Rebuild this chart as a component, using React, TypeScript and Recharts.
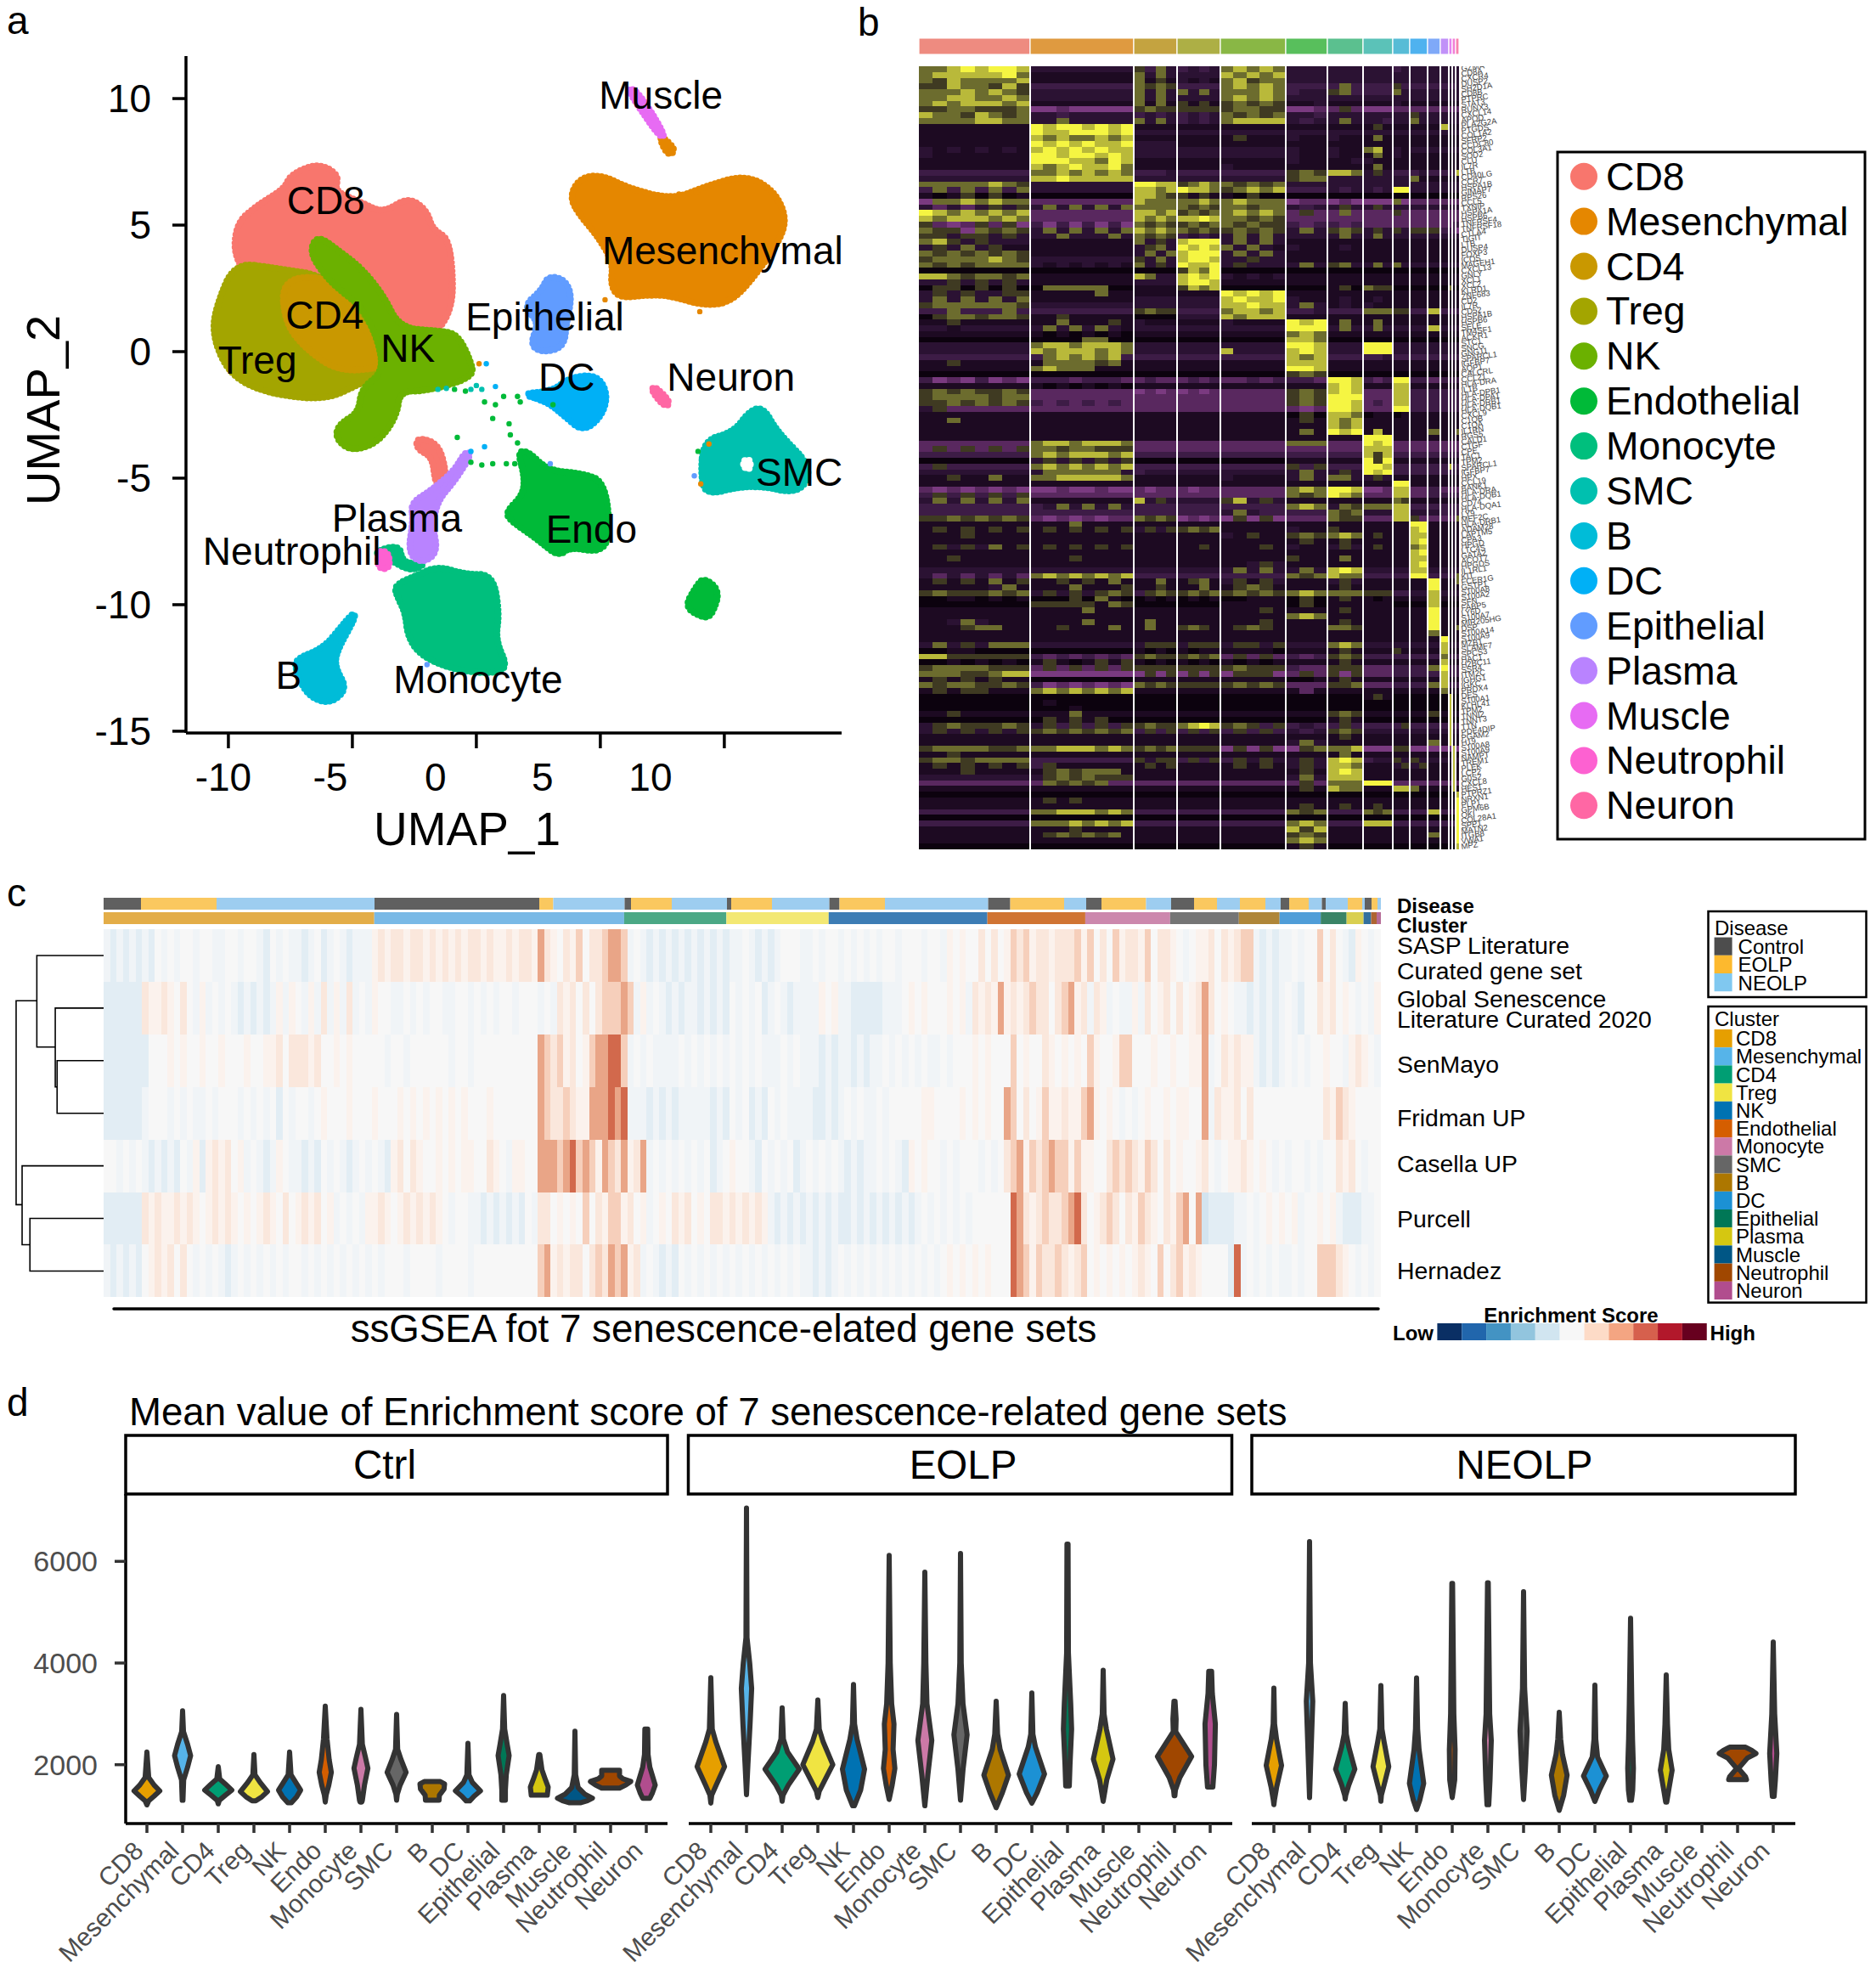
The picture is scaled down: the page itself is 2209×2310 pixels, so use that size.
import React from 'react';
import { BarChart, Bar, Cell, ReferenceLine, Scatter, ScatterChart, XAxis, YAxis } from 'recharts';

const FONT = '"Liberation Sans", Arial, sans-serif';

// ---- panel a: UMAP outlines in UMAP units
const umapCD8 = [[-9.76,3.52],[-9.71,5.04],[-8.83,5.79],[-7.73,6.44],[-7.51,6.98],[-6.4,7.46],[-5.52,6.98],[-5.74,6.34],[-4.64,5.9],[-3.75,5.47],[-2.76,6.12],[-1.99,5.58],[-1.77,4.82],[-0.99,4.39],[-0.93,0.93],[-3.75,-0.15],[-8.17,1.79]];
const umapCD8Small = [[-2.43,-3.39],[-1.55,-3.61],[-1.22,-4.69],[-1.32,-5.34],[-1.66,-5.23],[-1.77,-4.15],[-2.38,-3.87]];
const umapMes = [[3.75,6.12],[4.19,6.88],[5.08,6.98],[6.18,6.44],[7.95,6.01],[9.27,6.55],[10.82,6.98],[11.92,6.44],[12.47,5.47],[12.36,4.61],[11.48,3.31],[10.38,2.01],[9.27,1.79],[7.73,2.23],[6.84,2.23],[5.74,2.12],[5.41,2.66],[5.52,3.52],[4.86,4.61],[4.19,5.36]];
const umapMesTail = [[7.51,8.5],[8.06,7.96],[7.73,7.74],[7.4,8.39]];
const umapTreg = [[-9.76,3.52],[-10.49,1.79],[-10.64,0.71],[-10.15,-0.58],[-9.27,-1.34],[-7.73,-1.77],[-5.96,-1.88],[-4.64,-1.23],[-3.31,-0.8],[-3.75,0.93],[-5.96,2.98],[-8.17,3.31]];
const umapCD4 = [[-7.84,2.88],[-5.96,2.98],[-5.08,1.79],[-4.2,0.5],[-3.31,-0.15],[-3.75,-0.63],[-5.52,-0.8],[-6.84,0.06],[-7.73,1.15]];
const umapNK = [[-6.73,3.96],[-6.4,4.61],[-5.52,3.96],[-4.64,3.31],[-3.75,2.23],[-3.09,0.93],[-1.55,0.82],[-0.77,0.71],[-0.22,-0.37],[-0.11,-1.02],[-1.99,-1.56],[-3.09,-1.56],[-3.2,-2.53],[-3.97,-3.61],[-5.08,-3.94],[-5.7,-3.39],[-5.52,-2.85],[-4.75,-2.42],[-4.64,-1.45],[-3.75,-0.8],[-3.97,0.5],[-4.64,1.79],[-5.52,2.44],[-6.18,3.09]];
const umapEpi = [[1.88,1.79],[2.65,2.44],[2.87,2.98],[3.53,2.88],[3.86,2.23],[3.64,1.15],[3.53,0.17],[2.65,-0.04],[2.16,0.28],[2.54,1.15]];
const umapDC = [[1.77,-1.66],[3.09,-1.56],[3.75,-1.02],[4.86,-0.91],[5.3,-1.66],[5.08,-2.53],[4.31,-3.18],[3.53,-2.53],[2.87,-1.99]];
const umapSMC = [[9.16,-3.5],[10.38,-3.18],[11.04,-2.31],[11.59,-2.21],[12.14,-3.18],[13.47,-4.48],[13.25,-5.34],[12.58,-5.56],[11.7,-5.34],[10.6,-5.34],[9.27,-5.67],[9.05,-4.91]];
const umapSMCHole = [[10.75,-4.3],[11.05,-4.25],[11.05,-4.65],[10.8,-4.6]];
const umapEndo = [[1.66,-3.94],[2.1,-3.94],[2.87,-4.69],[4.19,-4.8],[5.19,-5.12],[5.41,-7.29],[4.97,-7.94],[3.75,-7.72],[3.31,-8.11],[2.43,-7.39],[1.32,-6.64],[1.21,-6.31],[1.88,-5.67],[1.94,-4.91]];
const umapEndoSmall = [[8.39,-10.1],[8.83,-9.34],[9.16,-8.91],[9.83,-9.45],[9.5,-10.42],[9.16,-10.53]];
const umapMono = [[-3.31,-9.23],[-2.32,-8.8],[-1.55,-8.48],[-0.44,-8.8],[0.66,-8.8],[0.93,-10.31],[0.77,-11.39],[1.28,-12.48],[0.66,-12.73],[-0.88,-12.58],[-2.21,-12.04],[-2.76,-11.29],[-2.87,-10.31],[-3.2,-9.66]];
const umapMonoBit = [[-4.2,-7.94],[-3.09,-7.61],[-2.98,-8.37],[-1.99,-8.37],[-2.65,-8.69],[-3.53,-8.19]];
const umapPlasma = [[-2.65,-5.99],[-1.77,-5.45],[-0.88,-4.69],[-0.44,-3.94],[-0.18,-4.04],[-0.88,-5.12],[-1.55,-5.88],[-1.77,-6.85],[-1.55,-7.94],[-2.21,-8.37],[-2.76,-7.94],[-2.54,-6.64]];
const umapB = [[-7.29,-12.15],[-6.18,-11.72],[-5.52,-10.96],[-4.97,-10.31],[-4.86,-10.49],[-5.63,-11.83],[-5.7,-12.48],[-5.19,-13.34],[-5.96,-13.95],[-6.84,-13.56],[-7.29,-12.58]];
const umapMuscle = [[6.18,10.44],[6.51,10.23],[7.06,9.47],[7.62,8.5],[7.4,8.5],[6.84,9.25],[6.18,10.23]];
const umapNeuron = [[7.17,-1.34],[7.84,-1.99],[7.62,-2.21],[7.06,-1.56]];
const umapNeutrophil = [[-3.97,-7.83],[-3.53,-7.94],[-3.49,-8.58],[-3.97,-8.58]];

const strayEndo = [[-0.22,-4.37],[0.22,-4.48],[0.66,-4.43],[1.21,-4.43],[1.55,-4.43],[1.32,-2.85],[1.37,-3.29],[1.66,-3.61],[-0.77,-3.39],[0.33,-1.99],[0.77,-2.1],[0.66,-2.64],[1.1,-1.77],[1.66,-1.77],[1.77,-1.99],[-0.44,-1.56],[-0.88,-1.49],[8.94,-3.94],[3.09,-2.1]];
const straySMC = [[0,-1.34],[0.22,-1.49],[-0.22,-1.49],[-1.55,-1.49],[-1.21,-1.45]];
const strayDC = [[0.77,-1.38],[0.33,-3.76],[-0.22,-3.94],[0.4,-0.48]];
const strayMes = [[0.11,-0.48],[5.19,2.05],[8.17,6.23],[8.87,6.29],[9.01,1.58],[9.38,-3.65],[9.05,-5.23]];
const strayEpi = [[2.98,-4.43],[-1.99,-12.37],[8.79,-4.91]];

const umapLabels = [
  { x: 7.44, y: 10.12, name: 'Muscle' }, { x: -6.07, y: 5.97, name: 'CD8' }, { x: 9.93, y: 4.0, name: 'Mesenchymal' },
  { x: 2.76, y: 1.36, name: 'Epithelial' }, { x: -6.12, y: 1.43, name: 'CD4' }, { x: -8.83, y: -0.32, name: 'Treg' },
  { x: -2.76, y: 0.13, name: 'NK' }, { x: 3.64, y: -1.02, name: 'DC' }, { x: 10.27, y: -1.02, name: 'Neuron' },
  { x: 13.02, y: -4.76, name: 'SMC' }, { x: -3.2, y: -6.59, name: 'Plasma' }, { x: 4.64, y: -7.03, name: 'Endo' },
  { x: -7.44, y: -7.89, name: 'Neutrophil' }, { x: -7.57, y: -12.8, name: 'B' }, { x: 0.07, y: -12.97, name: 'Monocyte' },
];

const umapLegendNames = ['CD8', 'Mesenchymal', 'CD4', 'Treg', 'NK', 'Endothelial', 'Monocyte', 'SMC', 'B', 'DC', 'Epithelial', 'Plasma', 'Muscle', 'Neutrophil', 'Neuron'];
const umapColors = ['#F8766D', '#E58700', '#C99800', '#A3A500', '#6BB100', '#00BA38', '#00BF7D', '#00C0AF', '#00BCD8', '#00B0F6', '#619CFF', '#B983FF', '#E76BF3', '#FD61D1', '#FF67A4'];
const umapXTicks = [-10, -5, 0, 5, 10];
const umapYTicks = [-15, -10, -5, 0, 5, 10];
const umapXLabelShift = [-6, -26, -48, -68, -87];

// ---- panel b: marker heatmap, one string per row, one digit per sub column of each cluster
const markerBarColors = ['#EE8B80', '#DF9A40', '#C4A340', '#ADAF45', '#89B745', '#58BF5C', '#5BC08F', '#5BC2B8', '#57BCD6', '#4FB2EF', '#7FA9F8', '#C191F8', '#E584F0', '#F27FD6', '#F783AE'];
const markerClusterWidths = [131, 122, 51, 51, 77, 49, 42, 35, 20, 21, 15, 10, 4, 4, 4];
const markerClusterCols = [8, 8, 4, 4, 5, 3, 3, 3, 2, 2, 1, 1, 1, 1, 1];
const markerPalette = ['#0c020e', '#1d0a22', '#2b1233', '#3d1c46', '#59285f', '#7a3a80', '#3f3a22', '#6c6c2e', '#b9b93a', '#f5f542'];
const markerRows = [
  '77898998 22222222 6372 3232 78787 222 222 222 32 22 2 2 2 2 2','78888897 11111111 7272 2222 87878 222 222 222 22 22 2 2 2 2 2','76877778 11111111 7161 2121 78677 222 222 222 22 22 2 2 2 2 2','66877686 33333333 7676 3333 78787 333 373 333 63 33 3 3 3 3 2','77787876 22222222 7272 7272 77787 322 673 333 72 22 2 2 2 2 2',
  '77887787 22222222 7272 2222 78787 222 222 222 22 22 2 2 2 2 2','78788878 11111111 7171 6161 67676 112 111 111 21 11 1 1 1 1 1','66776667 55455555 6766 6666 67766 554 464 555 44 44 4 4 4 4 4','87768767 22322222 3232 3232 76767 223 222 222 22 62 2 2 2 2 2','77778877 22722222 7272 3232 78888 232 272 223 22 72 2 2 2 2 2',
  '11111111 98998989 1111 1111 11111 111 111 161 11 11 1 8 1 1 1','11111111 98899989 2222 2222 22222 222 222 222 22 22 2 2 2 2 2','11111111 87877878 1111 1111 16111 211 211 171 11 11 1 1 1 1 1','11111111 98989889 2222 1111 11111 111 111 111 11 11 1 1 1 1 1','21212121 89898988 2222 2222 22222 211 211 781 21 22 2 2 2 2 2',
  '21111111 99899898 2222 2222 22222 211 211 171 21 11 1 1 1 1 1','11111111 99988798 1111 1111 11111 211 112 211 11 11 1 1 1 1 1','11111111 87898897 1111 1111 21111 111 111 171 11 11 1 1 1 1 1','33333333 77878787 3332 3333 33333 676 887 262 33 32 3 3 3 2 8','22222222 88988888 2222 2222 22222 677 222 222 22 71 1 1 1 1 1',
  '77777876 22222222 9988 6787 76767 222 222 222 22 22 2 2 2 2 2','37373737 22222222 8878 9887 67878 333 232 232 99 22 2 2 2 2 2','10160601 00000000 8876 6161 10600 000 000 000 00 00 0 0 0 0 0','57787877 44444444 8777 7787 78777 544 545 555 75 44 4 4 4 4 4','24242626 27272727 7777 7676 77677 232 262 262 22 22 2 2 2 2 2',
  '98787878 44444444 8878 6767 78787 464 474 444 64 44 4 4 4 4 4','87888787 44444444 8787 8898 77676 444 444 444 44 44 4 4 4 4 4','64546465 35353535 7676 6767 76766 343 343 444 44 44 4 4 4 3 3','76657676 27272727 8787 7676 67676 272 676 262 62 66 6 3 3 3 5','66266262 22722272 7676 3232 27272 222 272 272 22 22 2 2 2 2 2',
  '78626222 11111111 7262 8999 27272 111 111 111 11 11 1 1 1 1 1','26272611 11111111 2672 9898 72721 211 121 111 11 11 1 1 1 1 1','76767676 11111111 2727 8999 27272 111 111 111 11 11 1 1 1 1 1','67777876 22222222 6272 8998 22622 111 111 111 11 11 1 1 1 1 1','76767777 21212121 7262 9889 26222 272 672 272 72 22 2 2 2 2 2',
  '00000000 00000000 0000 6879 00000 000 000 000 00 00 0 0 0 0 0','88767767 11111111 8722 8989 21212 111 111 111 11 11 1 1 1 1 1','22626262 11111111 2222 8998 11111 111 111 111 11 11 1 1 1 1 1','06606060 07777700 1111 6878 00000 000 160 766 00 00 0 0 7 0 0',
  '26262266 11111711 1111 1111 98989 111 111 111 11 11 1 1 1 1 1','27272727 11111111 2222 2222 89889 211 121 121 11 11 1 1 1 1 1','67777776 22222222 2222 2222 88988 272 121 211 11 11 1 1 1 1 1','33733373 33333333 6766 3333 78878 332 333 777 66 33 8 3 3 3 3','06776776 11611111 0000 2222 87888 111 111 111 11 11 1 1 1 1 1',
  '11611111 11711161 2111 1111 21111 989 171 171 11 11 1 1 1 1 1','22122222 27272721 2222 2222 22222 999 272 272 22 22 8 2 2 2 2','11111111 10101010 1111 1111 11111 787 111 111 11 11 1 1 1 1 1','00000000 00007700 0000 0000 00000 887 000 000 00 00 0 0 0 0 0','22222222 78878887 2222 2222 22222 998 222 999 22 22 2 2 2 2 2',
  '22222222 87888787 2222 2222 82222 898 222 999 22 22 2 2 2 2 2','33333333 37878783 3333 3333 33333 878 333 332 33 33 3 3 3 3 3','11611111 17777671 1111 1111 11111 888 111 111 11 11 1 1 1 1 1','11111111 78777111 1111 1111 11111 998 111 111 11 11 1 1 1 1 1','00000000 00000000 0000 0000 00000 676 000 000 00 00 0 0 0 0 0',
  '35453545 33343334 4344 4343 44343 334 998 343 99 33 4 3 3 3 3','11111111 10101010 1111 1111 11111 111 898 111 88 11 1 1 1 1 1','67676676 44444444 5454 5454 44444 676 898 444 88 33 3 3 3 3 3','67777677 44444444 4444 4444 44444 676 999 444 88 33 3 3 3 3 3','66767676 34343434 4444 4444 44444 676 998 434 88 33 3 3 3 3 3',
  '26444444 44444444 4444 4444 44444 454 998 444 99 33 3 3 3 3 3','11111111 11111111 1111 1111 11111 060 887 011 01 11 1 1 1 1 1','11711111 11111111 1111 1111 11111 161 878 111 11 11 1 1 1 1 1','11111111 11111111 1111 1111 11111 111 878 111 11 11 1 1 1 1 1','11111111 11111111 1111 1111 11111 171 989 181 11 11 7 1 1 1 7',
  '11111111 11111111 1111 1111 11111 111 111 999 11 11 1 1 1 1 1','44444444 78878887 4444 4444 44444 777 444 989 44 44 4 4 4 4 4','46464646 77677666 4444 4444 44444 444 444 888 44 44 4 4 4 4 4','33333333 78788878 3333 3333 33333 333 333 868 33 33 3 3 3 3 3','00000000 26262626 0000 0000 00000 111 111 969 11 11 1 1 1 1 1',
  '36333333 78787878 3333 3333 33333 636 333 998 33 33 3 3 8 3 3','22222222 27777772 3222 2222 22222 272 262 989 33 33 3 3 3 2 2','11611711 77888887 1111 1111 21111 272 772 262 11 11 1 1 1 1 1',
  '11111111 11111111 1111 1111 11111 111 111 111 99 11 1 1 1 1 1','45454545 55455455 4544 4544 44444 787 998 554 88 44 3 4 4 4 4','36363636 44444444 4444 4444 44444 767 987 444 88 44 3 3 3 3 3','27272727 11111111 8262 2222 68262 111 111 111 76 11 1 1 1 1 1','33333333 32727272 3333 3333 33333 787 276 777 88 33 3 3 3 3 3','33333333 33333333 3333 3333 27233 333 767 222 88 22 2 3 3 3 3','66767676 45454544 7676 5454 56565 444 766 444 88 64 4 4 4 4 7',
  '11111111 11171111 1111 1111 11111 111 111 111 11 99 1 1 1 1 1','16161616 16161616 2626 6767 11111 211 611 111 11 89 1 1 1 1 1','11161111 11111111 1111 1111 21611 676 787 161 11 88 1 1 1 1 1','11111111 11111111 1111 1111 11111 161 161 111 11 89 1 1 1 1 1','16262716 16161616 1111 1161 11161 211 262 161 11 78 1 1 1 1 1',
  '11111111 11111111 1111 1111 11111 111 111 111 11 89 1 1 1 1 1','11611111 11161111 1111 1111 11111 611 171 111 11 88 1 1 1 1 1','11111111 11111111 1111 1111 11262 111 111 111 11 89 1 1 1 1 1','22222222 22222222 2222 2222 27272 272 898 222 22 88 2 2 2 2 2','24242424 78787878 3333 3333 33333 767 877 333 33 99 3 3 3 3 7',
  '16161716 11616171 1171 1671 26162 111 262 111 11 11 9 1 1 1 7','11111271 11171116 1161 1171 16761 111 161 111 11 11 9 1 1 1 1','67666767 26262676 3676 6767 67676 787 777 666 33 22 8 2 2 2 2','00110101 00060710 0101 0101 00111 060 161 101 11 11 8 1 1 1 1','00000000 66666176 0000 0000 11111 060 111 111 00 00 8 0 0 0 0',
  '11111111 11117111 1111 1111 11161 111 161 111 11 11 9 1 1 1 1','11111111 11111111 1111 1111 11111 787 111 111 11 11 9 1 1 1 1','11272111 11117111 1711 1111 11161 111 161 111 11 11 9 1 1 1 1','11167711 11611171 1711 6761 16761 111 776 111 11 11 9 1 1 1 7','11111111 11111111 1111 1111 11111 111 111 111 11 11 7 1 1 1 1',
  '11111111 11111111 1111 1111 11111 111 111 111 11 11 1 9 1 1 1','27262777 22222222 2666 2666 26626 222 787 222 22 22 2 8 2 2 2','00110000 00000000 1010 1011 11110 111 161 111 61 11 1 8 1 1 1','88666666 34343434 6766 6767 46464 343 676 333 33 33 3 7 3 3 3','00101010 16101616 1010 1010 10101 111 161 111 11 11 1 8 1 1 1',
  '67777666 46464646 6666 6666 67666 344 666 444 33 33 7 9 3 3 3','77766788 55555555 5656 5656 56665 464 656 444 33 33 3 8 3 3 3','16161611 00000000 1111 1111 11111 001 161 111 11 11 1 8 1 1 1','76776676 35454545 7676 6666 67676 444 667 444 33 33 7 8 3 3 3','16166111 78787878 1111 1111 11111 141 111 111 11 11 1 7 1 1 1',
  '00000000 00000000 0000 0000 00000 000 000 161 00 00 0 0 8 0 0','00000000 01000000 0000 0000 00000 000 000 000 00 00 0 0 8 0 0','00000000 00010000 0000 0000 00000 000 000 000 00 00 0 0 8 0 0','11611111 11171111 1111 1111 11111 111 676 111 11 11 6 1 8 1 1','00000000 06161600 0000 0000 00000 000 161 000 00 00 0 0 8 0 0',
  '26766676 26363636 6766 7898 67636 323 363 333 36 33 3 3 8 3 3','26262626 67676767 3636 3636 36363 232 676 222 22 22 2 2 8 2 2','11111111 11111111 1111 1111 11111 111 161 111 11 11 1 1 8 1 1','11111111 11111111 1111 1111 11111 272 111 111 11 11 7 1 8 1 1','67777667 77888787 6767 6666 56565 567 778 555 66 55 5 5 5 8 5',
  '11611111 11111111 1111 1111 11111 111 171 111 11 11 1 1 1 8 1','67767777 33333333 6266 3636 36262 262 898 322 62 62 2 2 2 8 2','16161616 36111111 1616 1111 16161 262 887 111 26 26 1 1 1 8 1','11161111 16767771 1111 1111 11111 161 898 111 11 11 1 1 1 8 1','22222222 26767666 1111 1111 11111 272 888 111 11 11 1 1 1 8 1','44444444 47676744 4444 4444 44444 464 777 999 44 44 4 4 4 8 4','11111111 11111111 1111 1111 11111 161 877 111 88 71 1 1 1 8 1',
  '00000000 00000000 0000 0000 00000 000 000 000 00 00 0 0 0 0 8','11111111 16161111 1111 1111 11111 111 111 111 11 11 1 1 1 1 9','11111111 11111111 1111 1111 11111 161 161 161 11 11 1 1 1 1 9','33333333 77888787 3333 3333 33333 767 333 767 33 33 8 3 3 3 9','00000000 00000000 0000 0000 00000 000 000 000 00 00 0 0 0 0 9',
  '33333333 77787878 3333 3333 33333 787 333 888 33 33 3 3 3 3 9','11111111 11161111 1111 1111 11111 868 111 111 11 11 1 1 1 1 9','11111111 16767671 1111 1111 11111 676 111 111 11 11 7 1 1 1 9','11111111 11111111 1111 1111 11111 787 111 111 11 11 1 1 1 1 9','00000000 00000000 0000 0000 00000 161 000 000 00 00 0 0 0 0 8',
];
const markerGenes = ['GZMA','CD8A','CXCR4','DUSP2','SH2D1A','CD8B','PTPRC','STAT3','RUNX3','CXCL14','APOD','PLA2G2A','PTGDS','COL1A2','SFRP2','CCDC80','COL3A1','SOD2','CLU','IL7R','LTB','CD40LG','CCR7','HSPA1B','GIMAP7','RPS26','CCL5','TXNIP','HSPA1A','HSPB6','TNFRSF4','TNFRSF18','CTLA4','TIGIT','LTB','DUSP4','FOXP3','ICOS','MAGEH1','CXCL13','GNLY','XCL1','XCL2','KLRD1','ZNF683','CD2','IL7R','CD52','HSPA1B','HSPB6','SELE','TM4SF1','ACKR1','STC1','SNCG','GNG11','SPARCL1','IGFBP7','AQP1','CALCRL','CCL21','HLA-DRA','IL1B','HLA-DPB1','HLA-DPA1','HLA-DRB1','HLA-DQB1','CXCL9','C1QB','C1QA','IL1RN','RGS5','CALD1','CTGF','CPE','TAC1','TPM2','SPARCL1','IGFBP7','HPX','CCL19','BANK1','HLA-DRA','HLA-DQB1','CD74','HLA-DQA1','LY9','MEF2C','HLA-DRB1','ADAM28','LAPTM5','CPA3','HPGD','LTC4S','GATA2','ACOT7','HPGDS','IL1RL1','KIT','FCER1G','GSTP1','S100A8','S100A2','SFN','FABP5','LY6D','S100A7','MIR205HG','DSP','S100A14','S100A9','MZB1','SLAMF7','SPCS3','HAC1','H2BC11','SSR4','ITM2C','IGHG1','IGKC','PRDX4','DES','S100A1','KLHL41','TPM2','TNNI2','TNNT3','TTN','PDE4DIP','PGAM2','H19','S100A8','S100A9','NAMPT','TREM1','PLEK','LCP2','G0S2','CXCL8','HES1','PTPRZ1','NRXN1','PLP1','GPM6B','QKI','COL28A1','SPP1','MATN2','ITGB8','VWA1','MPZ'];

// ---- panel c: ssGSEA heatmap, 7 gene sets, 200 columns across the cells
const ssgseaPalette = ['#D3E4EF', '#E2EDF4', '#F0F4F7', '#F7F7F7', '#FBF2ED', '#FAE7DC', '#F6CFBB', '#E9A587', '#D2694C'];
const ssgseaRows = [
  '2121212132 3233233223 3233213232 2123123212 2245455455 4545454554 5445455475 4354635567 7623212121 2121212122 3212123332 2323323232 3233233323 3243433535 3465645545 5564635364 5546355432 3445354566 2121223233 6353214323',
  '1111115445 4353242323 2121212424 3242524252 3243322323 2332233232 3233233323 2545353566 6762423212 1221212132 3231232122 2243422111 1122234343 3343425454 7454565535 6745254232 2425345353 4575343221 2121232133 5453432324',
  '1111111333 4343343343 3343344535 5545334343 3333233233 3333233233 3333333376 5645346778 8623232222 3232323232 3232223232 2212122121 2232323232 2323334343 3363433543 4343643346 6333433433 4472354544 2121232323 3433245432',
  '1111112333 2323223233 3232323132 3323433343 3343334343 4343434333 4333333376 5565447778 7822212121 2222212132 3121323222 2112123232 2323333344 3333434343 3763534644 5446743432 3234334344 3372544535 3333333333 3546543333',
  '3323232121 2132414545 3423212432 2121323212 3232145354 3343434433 5432443377 7678676476 5745723232 3232312343 3213232312 3232321212 2323214343 3232333232 3567465676 6464433565 6546535343 3453234454 3432323323 2335453233',
  '1111115454 4545434545 4343454353 4545342323 2445434545 4543233221 2121213255 3434363546 6453423435 4534355454 5454212121 2121211212 1212121232 3232323333 3387545655 6785345653 5465435467 3701111223 2343434233 4342111223',
  '2121213454 5353232321 2323232323 3232323232 3232333233 3323333233 3333333367 4545535657 6745232121 3232323232 3232323232 2121232323 2323232323 2343434343 3387646556 5456343434 3454363564 5433331823 2323223233 6665432323',
];
const ssgseaClusterWidths = [319, 294.5, 120.5, 120.6, 187, 115.4, 100, 81, 48, 48.5, 30.5, 20, 8.9, 6.5, 5];
const ssgseaClusterColors = ['#E3AD48', '#79B9E6', '#4BA885', '#F3E873', '#3D7DB5', '#D07433', '#CC88AD', '#757575', '#AF8638', '#4F9DD8', '#3A8466', '#D9CF50', '#33709E', '#AE6532', '#B66C97'];
const diseaseGrey = '#606060';
const diseaseGold = '#FAC85F';
const diseaseBlue = '#9DCDF0';
const ssgseaDiseaseWidths = [44, 89, 186, 194, 16.5, 84, 7.5, 48, 65, 5, 48, 67.6, 11.9, 53.5, 121.6, 26, 63.4, 26, 18, 52.5, 29.5, 27, 27, 27, 30, 18, 10, 23, 15.5, 4.5, 26, 17, 3, 8, 7, 4];
const ssgseaDiseaseColors = [diseaseGrey, diseaseGold, diseaseBlue, diseaseGrey, diseaseGold, diseaseBlue, diseaseGrey, diseaseGold, diseaseBlue, diseaseGrey, diseaseGold, diseaseBlue, diseaseGrey, diseaseGold, diseaseBlue, diseaseGrey, diseaseGold, diseaseBlue, diseaseGrey, diseaseGold, diseaseBlue, diseaseGrey, diseaseGold, diseaseBlue, diseaseGold, diseaseBlue, diseaseGrey, diseaseGold, diseaseBlue, diseaseGrey, diseaseBlue, diseaseGold, diseaseBlue, diseaseGrey, diseaseGold, diseaseBlue];
// dendrogram branches: x is merge height, y is row position
const dendroBranches = [
  [[0,0.5],[145,0.5],[145,2.24],[105,2.24]],
  [[0,1.5],[105,1.5],[105,3],[101,3]],
  [[0,2.5],[101,2.5],[101,3.5],[0,3.5]],
  [[145,1.36],[190,1.36],[190,5.24],[177,5.24]],
  [[0,4.5],[177,4.5],[177,6],[160,6]],
  [[0,5.5],[160,5.5],[160,6.5],[0,6.5]],
];
const ssgseaLabels = [['SASP Literature', 1113], ['Curated gene set', 1142.5], ['Global Senescence', 1176], ['Literature Curated 2020', 1200], ['SenMayo', 1253], ['Fridman UP', 1316], ['Casella UP', 1370], ['Purcell', 1435], ['Hernadez', 1496]] as [string, number][];
const diseaseLegend = [['Control', '#4D4D4D'], ['EOLP', '#FDB92E'], ['NEOLP', '#80C8F0']];
const clusterLegendColors = ['#E69F00', '#56B4E9', '#009E73', '#F0E442', '#0072B2', '#D55E00', '#CC79A7', '#666666', '#AD7700', '#1C91D4', '#007756', '#D5C711', '#005685', '#A04700', '#B14D8E'];
const scoreColors = ['#0A2F64', '#2166AC', '#4393C3', '#92C5DE', '#D1E5F0', '#F7F7F7', '#FDDBC7', '#F4A582', '#D6604D', '#B2182B', '#67001F'];

// ---- panel d: violins, each a list of [score, density as share of half a band]
const violinNames = ['CD8', 'Mesenchymal', 'CD4', 'Treg', 'NK', 'Endo', 'Monocyte', 'SMC', 'B', 'DC', 'Epithelial', 'Plasma', 'Muscle', 'Neutrophil', 'Neuron'];
const ctrlViolins = [
  [[2250,0],[1750,.1],[1600,.4],[1485,.72],[1380,.4],[1290,.1],[1210,0]],
  [[3060,0],[2650,.05],[2400,.28],[2180,.45],[1950,.28],[1700,.06],[1300,.02]],
  [[1960,0],[1720,.08],[1620,.4],[1500,.76],[1400,.4],[1300,.06],[1230,0]],
  [[2200,0],[1800,.06],[1650,.35],[1470,.76],[1370,.45],[1290,.1]],
  [[2250,0],[1800,.08],[1620,.4],[1500,.62],[1370,.4],[1250,.1]],
  [[3150,0],[2500,.1],[2100,.22],[1850,.34],[1600,.2],[1400,.05],[1265,0]],
  [[3088,0],[2400,.08],[2150,.25],[1930,.39],[1600,.2],[1300,.08],[1265,.05]],
  [[2990,0],[2300,.06],[2100,.25],[1850,.53],[1600,.2],[1420,.04],[1300,0]],
  [[1669,.45],[1620,.69],[1520,.66],[1400,.4],[1300,.38]],
  [[2420,0],[1800,.06],[1650,.25],[1485,.7],[1380,.35],[1287,.1]],
  [[3360,0],[2700,.06],[2400,.2],[2180,.31],[1800,.15],[1500,.1],[1300,.1]],
  [[2200,.03],[1900,.15],[1700,.35],[1560,.5],[1400,.45]],
  [[2660,0],[1800,.04],[1550,.18],[1420,.55],[1340,.98],[1290,.7],[1250,.3]],
  [[1890,.5],[1780,.5],[1720,.7],[1670,1.13],[1600,.85],[1540,.5]],
  [[2700,.08],[2200,.1],[1950,.2],[1600,.5],[1450,.35],[1340,.2]],
];
const eolpViolins = [
  [[3710,0],[2700,.08],[2450,.28],[1960,.77],[1600,.3],[1400,.05],[1243,0]],
  [[7050,0],[4500,.03],[4000,.18],[3500,.29],[2800,.2],[2000,.08],[1412,0]],
  [[3118,0],[2500,.07],[2250,.3],[1912,.96],[1600,.35],[1400,.05],[1279,0]],
  [[3272,0],[2700,.08],[2450,.3],[2000,.84],[1700,.4],[1480,.08],[1353,0]],
  [[3580,0],[2800,.06],[2500,.2],[1912,.62],[1500,.4],[1191,.05]],
  [[6118,0],[4000,.06],[3200,.14],[2800,.27],[2300,.22],[1926,.32],[1600,.17],[1316,0]],
  [[5787,0],[4000,.06],[3200,.12],[2478,.39],[1800,.17],[1191,0]],
  [[6155,0],[4000,.04],[3200,.14],[2588,.37],[1900,.14],[1301,0]],
  [[3250,0],[2600,.08],[2300,.22],[1794,.69],[1450,.35],[1154,0]],
  [[3412,0],[2600,.06],[2350,.2],[1816,.71],[1450,.3],[1243,0]],
  [[6338,.03],[4200,.05],[3200,.18],[2700,.23],[2000,.14],[1581,.1]],
  [[3860,0],[3000,.05],[2700,.18],[2110,.55],[1700,.2],[1279,0]],
  [],
  [[3250,.03],[2900,.09],[2650,.07],[2162,.96],[1750,.3],[1500,.05],[1390,.02]],
  [[3838,.08],[3400,.12],[2800,.29],[2000,.24],[1559,.15]],
];
const neolpViolins = [
  [[3507,0],[2800,.04],[2500,.15],[1985,.43],[1550,.15],[1300,.03],[1213,0]],
  [[6390,0],[4000,.05],[3250,.18],[2400,.1],[1353,0]],
  [[3206,0],[2600,.06],[2350,.2],[1912,.54],[1600,.2],[1400,.03],[1324,0]],
  [[3559,0],[2700,.06],[2450,.18],[1963,.44],[1600,.18],[1400,.03],[1279,0]],
  [[3706,0],[2700,.06],[2300,.14],[1632,.4],[1300,.18],[1118,0]],
  [[5566,.02],[3000,.09],[2300,.16],[1700,.14],[1353,0]],
  [[5581,.02],[3000,.1],[2478,.19],[1700,.12],[1213,.05]],
  [[5405,0],[3500,.06],[2662,.2],[1900,.1],[1316,0]],
  [[3029,0],[2500,.08],[2200,.18],[1794,.44],[1400,.25],[1103,0]],
  [[3566,0],[2500,.05],[2150,.15],[1779,.64],[1500,.25],[1279,0]],
  [[4882,0],[3200,.07],[2500,.11],[1926,.16],[1500,.12],[1301,.05]],
  [[3765,0],[2800,.07],[2300,.14],[1890,.33],[1500,.14],[1265,.03]],
  [],
  [[2345,.45],[2280,.8],[2220,1.03],[2130,.55],[1926,.05],[1760,.45],[1706,.5]],
  [[4412,0],[3000,.08],[2220,.2],[1700,.12],[1375,.05]],
];
const violinTicks = [2000, 4000, 6000];

const toPoints = (list: number[][]) => list.map(([x, y]) => ({ x, y }));
const noSymbol = () => <g />;

// rounded closed outline, the dotted stroke gives the edge of a point cloud
const blobLine = (color: string) => (p: any) => {
  const pts = p.points;
  const mid = (a: any, b: any) => `${(a.x + b.x) / 2},${(a.y + b.y) / 2}`;
  let d = `M${mid(pts[pts.length - 1], pts[0])}`;
  pts.forEach((q: any, i: number) => { d += `Q${q.x},${q.y} ${mid(q, pts[(i + 1) % pts.length])}`; });
  return <path d={d + 'Z'} fill={color} stroke={color} strokeWidth={8} strokeLinecap="round" strokeLinejoin="round" strokeDasharray="0 5" />;
};

const Blob = (list: number[][], color: string, key: string) => (
  <Scatter key={key} data={toPoints(list)} shape={noSymbol} line={blobLine(color)} isAnimationActive={false} />
);

const Dots = (list: number[][], color: string, key: string) => (
  <Scatter key={key} data={toPoints(list)} isAnimationActive={false}
    shape={(p: any) => <circle cx={p.cx} cy={p.cy} r={3.2} fill={color} />} />
);

function UmapPanel() {
  const axis = { stroke: '#000', strokeWidth: 3.5 };
  return (
    <div style={{ position: 'absolute', left: 0, top: 0 }}>
      <ScatterChart width={1010} height={1010} margin={{ top: 66, right: 19, bottom: 0, left: 0 }}>
        <XAxis type="number" dataKey="x" domain={[-11.71, 14.73]} ticks={umapXTicks} height={147} axisLine={axis} tickLine={axis} tickSize={18}
          tick={(p: any) => (
            <text x={p.x + umapXLabelShift[p.index]} y={931} textAnchor="middle" fontSize={46} fontFamily={FONT} fill="#000">{p.payload.value}</text>
          )} />
        <YAxis type="number" dataKey="y" domain={[-15.07, 11.68]} ticks={umapYTicks} width={219} axisLine={axis} tickLine={axis} tickSize={16} tickMargin={25}
          tick={{ fontSize: 46, fontFamily: FONT, fill: '#000' }} />
        {Blob(umapCD8, umapColors[0], 'cd8')}
        {Blob(umapCD8Small, umapColors[0], 'cd8s')}
        {Blob(umapMes, umapColors[1], 'mes')}
        {Blob(umapMesTail, umapColors[1], 'mest')}
        {Blob(umapTreg, umapColors[3], 'treg')}
        {Blob(umapCD4, umapColors[2], 'cd4')}
        {Blob(umapNK, umapColors[4], 'nk')}
        {Blob(umapEndo, umapColors[5], 'endo')}
        {Blob(umapEndoSmall, umapColors[5], 'endos')}
        {Blob(umapMono, umapColors[6], 'mono')}
        {Blob(umapMonoBit, umapColors[6], 'monob')}
        {Blob(umapSMC, umapColors[7], 'smc')}
        {Blob(umapSMCHole, '#fff', 'hole')}
        {Blob(umapB, umapColors[8], 'b')}
        {Blob(umapDC, umapColors[9], 'dc')}
        {Blob(umapEpi, umapColors[10], 'epi')}
        {Blob(umapPlasma, umapColors[11], 'plasma')}
        {Blob(umapMuscle, umapColors[12], 'muscle')}
        {Blob(umapNeutrophil, umapColors[13], 'neut')}
        {Blob(umapNeuron, umapColors[14], 'neuron')}
        {Dots(strayEndo, umapColors[5], 'se')}
        {Dots(straySMC, umapColors[7], 'ss')}
        {Dots(strayDC, umapColors[9], 'sd')}
        {Dots(strayMes, umapColors[1], 'sm')}
        {Dots(strayEpi, umapColors[10], 'sp')}
        <Scatter data={umapLabels} isAnimationActive={false}
          shape={(p: any) => (
            <text x={p.cx} y={p.cy + 16} textAnchor="middle" fontSize={46} fontFamily={FONT} fill="#000">{p.payload.name}</text>
          )} />
      </ScatterChart>
    </div>
  );
}

// stacked horizontal bars, one per row, used for both heatmaps
function HeatStrip({ rows, widths, palette, left, top, width, height, gaps }: any) {
  const cleaned = rows.map((r: string) => r.replace(/ /g, ''));
  const total = widths.reduce((a: number, b: number) => a + b, 0);
  const data = cleaned.map((_: string, i: number) => {
    const row: any = { id: i };
    widths.forEach((w: number, j: number) => { row['c' + j] = w; });
    return row;
  });
  return (
    <div style={{ position: 'absolute', left, top }}>
      <BarChart width={width} height={height} data={data} layout="vertical" barCategoryGap={0}
        margin={{ top: 0, right: 0, bottom: 0, left: 0 }} style={{ shapeRendering: 'crispEdges' }}>
        <XAxis type="number" hide domain={[0, total]} />
        <YAxis type="category" dataKey="id" hide />
        {widths.map((_: number, j: number) => (
          <Bar key={j} dataKey={'c' + j} stackId="h" isAnimationActive={false}>
            {cleaned.map((r: string, i: number) => <Cell key={i} fill={palette[+r[j]]} />)}
          </Bar>
        ))}
        {(gaps || []).map((g: number) => <ReferenceLine key={g} x={g} stroke="#fff" strokeWidth={1.5} />)}
      </BarChart>
    </div>
  );
}

function SegmentBar({ widths, colors, left, top, width, height, gapColor }: any) {
  const total = widths.reduce((a: number, b: number) => a + b, 0);
  const row: any = { id: 0 };
  widths.forEach((w: number, j: number) => { row['s' + j] = w; });
  return (
    <div style={{ position: 'absolute', left, top }}>
      <BarChart width={width} height={height} data={[row]} layout="vertical" barCategoryGap={0} margin={{ top: 0, right: 0, bottom: 0, left: 0 }}>
        <XAxis type="number" hide domain={[0, total]} />
        <YAxis type="category" dataKey="id" hide />
        {widths.map((_: number, j: number) => (
          <Bar key={j} dataKey={'s' + j} stackId="s" fill={colors[j]} stroke={gapColor} strokeWidth={gapColor ? 1.2 : 0} isAnimationActive={false} />
        ))}
      </BarChart>
    </div>
  );
}

function GeneLabels() {
  const data = markerGenes.map((gene) => ({ gene, v: 0 }));
  return (
    <div style={{ position: 'absolute', left: 1714, top: 78 }}>
      <BarChart width={124} height={922} data={data} layout="vertical" barCategoryGap={0} margin={{ top: 0, right: 0, bottom: 0, left: 0 }}>
        <XAxis type="number" hide domain={[0, 1]} />
        <YAxis type="category" dataKey="gene" orientation="right" width={120} interval={0} axisLine={false} tickLine={false}
          tick={(p: any) => (
            <text x={p.x - 5} y={p.y + 3} transform={`rotate(-8 ${p.x - 5} ${p.y + 3})`} fontSize={9.5} fontFamily={FONT} fill="#444">{p.payload.value}</text>
          )} />
        <Bar dataKey="v" isAnimationActive={false} />
      </BarChart>
    </div>
  );
}

function Dendrogram() {
  return (
    <div style={{ position: 'absolute', left: 0, top: 1093.6 }}>
      <ScatterChart width={122} height={433.4} margin={{ top: 0, right: 0, bottom: 0, left: 0 }}>
        <XAxis type="number" dataKey="x" hide reversed domain={[0, 225]} />
        <YAxis type="number" dataKey="y" hide reversed domain={[0, 7]} />
        {dendroBranches.map((b, i) => (
          <Scatter key={i} data={toPoints(b)} shape={noSymbol} line={{ stroke: '#000', strokeWidth: 1.6 }} isAnimationActive={false} />
        ))}
      </ScatterChart>
    </div>
  );
}

const ViolinShape = (props: any) => {
  const { x, y, width, height, payload } = props;
  const profile: number[][] = payload.profile;
  if (!profile.length || !height) return <g />;
  const hi = profile[0][0];
  const lo = profile[profile.length - 1][0];
  const cx = x + width / 2;
  const py = (v: number) => y + ((hi - v) / (hi - lo)) * height;
  const right = profile.map(([v, d]) => `${cx + (d * width) / 2},${py(v)}`);
  const left = [...profile].reverse().map(([v, d]) => `${cx - (d * width) / 2},${py(v)}`);
  return <polygon points={[...right, ...left].join(' ')} fill={clusterLegendColors[payload.idx]} stroke="#333" strokeWidth={6} strokeLinejoin="round" />;
};

function ViolinPanel({ profiles, left, plotWidth, showY }: any) {
  const data = violinNames.map((name, idx) => {
    const p: number[][] = profiles[idx];
    return { name, idx, profile: p, range: p.length ? [p[p.length - 1][0], p[0][0]] : null };
  });
  const axis = { stroke: '#000', strokeWidth: 3.5 };
  const tickMark = { stroke: '#333', strokeWidth: 3.5 };
  const pad = (plotWidth - 630) / 2;
  const leftRoom = showY ? 148 : 200;
  return (
    <div style={{ position: 'absolute', left: left - leftRoom, top: 1759 }}>
      <BarChart width={leftRoom + plotWidth} height={551} data={data} barCategoryGap={0}
        margin={{ top: 0, right: 0, bottom: 0, left: showY ? 0 : 200 }}>
        <XAxis dataKey="name" interval={0} height={163} padding={{ left: pad, right: pad }} axisLine={axis} tickLine={tickMark} tickSize={11}
          tick={(p: any) => (
            <text x={p.x - 2.5} y={422} transform={`rotate(-45 ${p.x - 2.5} 422)`} textAnchor="end"
              fontSize={30} fontFamily={FONT} fill="#4D4D4D">{p.payload.value}</text>
          )} />
        <YAxis hide={!showY} type="number" domain={[842, 7325]} ticks={violinTicks} width={148} axisLine={axis} tickLine={tickMark} tickSize={13} tickMargin={20}
          tick={{ fontSize: 34, fontFamily: FONT, fill: '#4D4D4D' }} />
        <Bar dataKey="range" shape={ViolinShape} isAnimationActive={false} />
      </BarChart>
    </div>
  );
}

function Overlay() {
  const T = (x: number, y: number, s: string, size: number, extra: any = {}) => (
    <text key={s + x + y} x={x} y={y} dominantBaseline="central" fontSize={size} fontFamily={FONT} fill="#000" {...extra}>{s}</text>
  );
  return (
    <svg width={2209} height={2310} style={{ position: 'absolute', left: 0, top: 0, pointerEvents: 'none' }}>
      {T(8, 24, 'a', 46)}
      {T(1010, 26, 'b', 46)}
      {T(8, 1051, 'c', 46)}
      {T(8, 1651, 'd', 46)}

      {T(550, 976, 'UMAP_1', 55, { textAnchor: 'middle' })}
      {T(50, 483, 'UMAP_2', 56, { textAnchor: 'middle', transform: 'rotate(-90 50 483)' })}

      <rect x={1834} y={179} width={362} height={809} fill="none" stroke="#000" strokeWidth={3} />
      {umapLegendNames.map((name, i) => (
        <g key={name}>
          <circle cx={1865} cy={207.7 + i * 52.9} r={16} fill={umapColors[i]} />
          {T(1891, 207.7 + i * 52.9, name, 46.3)}
        </g>
      ))}

      {T(1645, 1066, 'Disease', 24, { fontWeight: 700 })}
      {T(1645, 1089, 'Cluster', 24, { fontWeight: 700 })}
      {ssgseaLabels.map(([s, y]) => T(1645, y, s, 28.4))}
      <line x1={134} x2={1623} y1={1541} y2={1541} stroke="#000" strokeWidth={3.5} strokeLinecap="round" />
      {T(852, 1564, 'ssGSEA fot 7 senescence-elated gene sets', 45.7, { textAnchor: 'middle' })}

      <rect x={2011.5} y={1073} width={186} height={101} fill="none" stroke="#000" strokeWidth={2.5} />
      {T(2019, 1092, 'Disease', 24)}
      {diseaseLegend.map(([s, c], i) => (
        <g key={s}>
          <rect x={2018.6} y={1103.6 + i * 21.2} width={21} height={21.2} fill={c} />
          {T(2046.6, 1114 + i * 21.7, s, 24)}
        </g>
      ))}
      <rect x={2011.5} y={1185} width={186} height={348.6} fill="none" stroke="#000" strokeWidth={2.5} />
      {T(2019, 1199.6, 'Cluster', 24)}
      {umapLegendNames.map((s, i) => (
        <g key={s}>
          <rect x={2018.6} y={1212 + i * 21.2} width={21} height={21.2} fill={clusterLegendColors[i]} />
          {T(2044, 1222.6 + i * 21.2, s, 24)}
        </g>
      ))}
      {T(1850, 1548, 'Enrichment Score', 24, { fontWeight: 700, textAnchor: 'middle' })}
      {T(1640, 1569, 'Low', 24, { fontWeight: 700 })}
      {T(2013.6, 1569, 'High', 24, { fontWeight: 700 })}
      {scoreColors.map((c, i) => <rect key={c} x={1692.4 + i * 28.85} y={1558} width={28.85} height={20} fill={c} />)}

      {T(152, 1662, 'Mean value of Enrichment score of 7 senescence-related gene sets', 45.6)}
      <rect x={148} y={1690} width={638} height={69} fill="none" stroke="#000" strokeWidth={3.5} />
      <rect x={810.5} y={1690} width={640} height={69} fill="none" stroke="#000" strokeWidth={3.5} />
      <rect x={1474} y={1690} width={640} height={69} fill="none" stroke="#000" strokeWidth={3.5} />
      {T(453, 1724, 'Ctrl', 47.5, { textAnchor: 'middle' })}
      {T(1134, 1724, 'EOLP', 47.5, { textAnchor: 'middle' })}
      {T(1795, 1724, 'NEOLP', 47.5, { textAnchor: 'middle' })}
    </svg>
  );
}

export default function App() {
  const markerWidths: number[] = [];
  const markerGaps: number[] = [];
  let run = 0;
  markerClusterWidths.forEach((w, i) => {
    for (let k = 0; k < markerClusterCols[i]; k++) markerWidths.push(w / markerClusterCols[i]);
    run += w;
    if (i < markerClusterWidths.length - 1) markerGaps.push(run);
  });
  const ssgseaWidths = ssgseaRows[0].replace(/ /g, '').split('').map(() => 1);
  return (
    <div style={{ position: 'absolute', left: 0, top: 0, width: 2209, height: 2310, background: '#fff', overflow: 'hidden' }}>
      <UmapPanel />
      <SegmentBar widths={markerClusterWidths} colors={markerBarColors} left={1082} top={45} width={636} height={19} gapColor="#fff" />
      <HeatStrip rows={markerRows} widths={markerWidths} palette={markerPalette} left={1082} top={78} width={636} height={922} gaps={markerGaps} />
      <GeneLabels />
      <SegmentBar widths={ssgseaDiseaseWidths} colors={ssgseaDiseaseColors} left={122} top={1057} width={1504} height={14} />
      <SegmentBar widths={ssgseaClusterWidths} colors={ssgseaClusterColors} left={122} top={1074} width={1504} height={13.5} />
      <HeatStrip rows={ssgseaRows} widths={ssgseaWidths} palette={ssgseaPalette} left={122} top={1093.6} width={1504} height={433.4} />
      <Dendrogram />
      <ViolinPanel profiles={ctrlViolins} left={148} plotWidth={638} showY />
      <ViolinPanel profiles={eolpViolins} left={810.5} plotWidth={640} />
      <ViolinPanel profiles={neolpViolins} left={1474} plotWidth={640} />
      <Overlay />
    </div>
  );
}
